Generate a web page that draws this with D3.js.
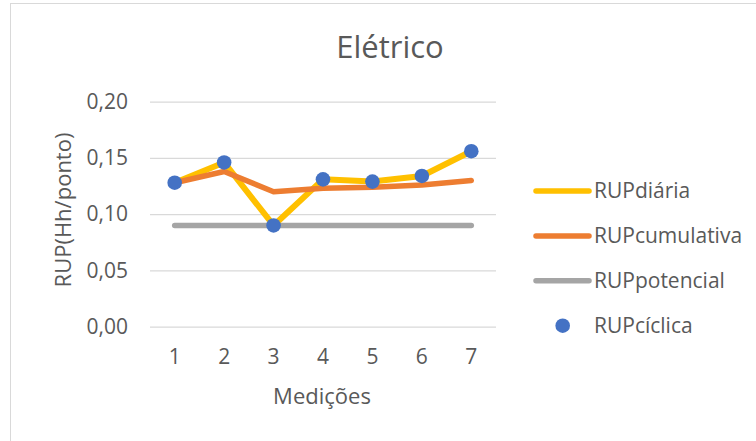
<!DOCTYPE html>
<html>
<head>
<meta charset="utf-8">
<script src="https://cdn.jsdelivr.net/npm/d3@7"></script>
<style>
  html, body { margin: 0; padding: 0; background: #fff; }
  svg { display: block; }
  text { font-family: "Open Sans", "Noto Sans", sans-serif; fill: #595959; }
</style>
</head>
<body>
<svg id="chart" width="756" height="441"></svg>
<script>
const categories = ["1", "2", "3", "4", "5", "6", "7"];
const rupDiaria = [0.128, 0.146, 0.090, 0.131, 0.129, 0.134, 0.156];
const rupCumulativa = [0.128, 0.138, 0.120, 0.123, 0.124, 0.126, 0.130];
const rupPotencial = [0.090, 0.090, 0.090, 0.090, 0.090, 0.090, 0.090];
const rupCiclica = [0.128, 0.146, 0.090, 0.131, 0.129, 0.134, 0.156];
const yTicks = [0, 0.05, 0.10, 0.15, 0.20];
const seriesNames = ["RUPdiária", "RUPcumulativa", "RUPpotencial", "RUPcíclica"];
const titleText = "Elétrico";
const xTitle = "Medições";
const yTitle = "RUP(Hh/ponto)";

const svg = d3.select("#chart");
const W = 756, H = 441;

// chart area border
svg.append("rect")
  .attr("x", 10.5).attr("y", 3.5)
  .attr("width", W + 10).attr("height", H + 10)
  .attr("fill", "none").attr("stroke", "#D9D9D9").attr("stroke-width", 1);

const plot = { left: 150, right: 496, top: 101.7, bottom: 326.7 };

const x = d3.scaleBand().domain(categories).range([plot.left, plot.right]);
const y = d3.scaleLinear().domain([0, 0.20]).range([plot.bottom, plot.top]);
const cx = d => x(d) + x.bandwidth() / 2;

// gridlines + y labels
const yAxis = d3.axisLeft(y).tickValues(yTicks)
  .tickSize(-(plot.right - plot.left))
  .tickPadding(22)
  .tickFormat(d => d3.format(".2f")(d).replace(".", ","));
const gy = svg.append("g").attr("transform", `translate(${plot.left},0)`).call(yAxis);
gy.select(".domain").remove();
gy.selectAll(".tick line").attr("stroke", "#D9D9D9").attr("stroke-width", 1.3);
gy.selectAll(".tick text")
  .attr("fill", "#595959").style("font-size", "21px")
  .style("font-family", "'Open Sans', sans-serif");

const xAxis = d3.axisBottom(x).tickSize(0).tickPadding(22);
const gx = svg.append("g").attr("transform", `translate(0,${plot.bottom})`).call(xAxis);
gx.select(".domain").remove();
gx.selectAll(".tick text")
  .attr("fill", "#595959").style("font-size", "21px")
  .style("font-family", "'Open Sans', sans-serif");

const line = d3.line().x((d, i) => cx(categories[i])).y(d => y(d));

function drawLine(data, color, width) {
  svg.append("path").datum(data)
    .attr("d", line)
    .attr("fill", "none")
    .attr("stroke", color)
    .attr("stroke-width", width)
    .attr("stroke-linecap", "round")
    .attr("stroke-linejoin", "round");
}
drawLine(rupPotencial, "#A5A5A5", 5.5);
drawLine(rupDiaria, "#FFC000", 6);
drawLine(rupCumulativa, "#ED7D31", 5.5);

svg.selectAll("circle.pt").data(rupCiclica).enter().append("circle")
  .attr("class", "pt")
  .attr("cx", (d, i) => cx(categories[i]))
  .attr("cy", d => y(d))
  .attr("r", 7.3)
  .attr("fill", "#4472C4");

// title
svg.append("text").attr("x", 390).attr("y", 58)
  .attr("text-anchor", "middle").style("font-size", "31px").text(titleText);

// axis titles
svg.append("text").attr("x", 322).attr("y", 404)
  .attr("text-anchor", "middle").style("font-size", "22px").text(xTitle);
svg.append("text")
  .attr("transform", "translate(71,210) rotate(-90)")
  .attr("text-anchor", "middle").style("font-size", "22px").text(yTitle);

// legend
const legendY = [191, 236, 280.7, 325.7];
const legendColors = ["#FFC000", "#ED7D31", "#A5A5A5", "#4472C4"];
const lg = svg.append("g");
seriesNames.forEach((name, i) => {
  if (i < 3) {
    lg.append("line")
      .attr("x1", 536).attr("x2", 589)
      .attr("y1", legendY[i]).attr("y2", legendY[i])
      .attr("stroke", legendColors[i]).attr("stroke-width", 5.5)
      .attr("stroke-linecap", "round");
  } else {
    lg.append("circle").attr("cx", 562.7).attr("cy", legendY[i])
      .attr("r", 7.3).attr("fill", legendColors[i]);
  }
  lg.append("text").attr("x", 594).attr("y", legendY[i] + 7)
    .style("font-size", "21px").text(name);
});
</script>
</body>
</html>
